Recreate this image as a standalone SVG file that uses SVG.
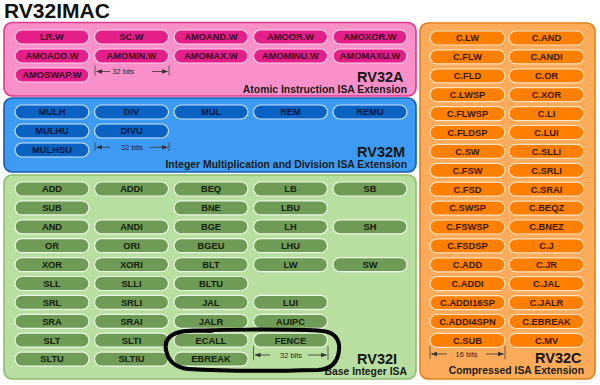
<svg xmlns="http://www.w3.org/2000/svg" width="600" height="385" viewBox="0 0 600 385">
<style>
text{font-family:"Liberation Sans",Arial,sans-serif}
.title{font-size:21px;font-weight:bold;fill:#111}
.big{font-size:14.5px;font-weight:bold;fill:#151515}
.sub{font-size:10.4px;font-weight:bold;fill:#1a1a1a}
.pt{font-size:9.3px;font-weight:bold;text-anchor:middle}
.bits{font-size:7.4px;fill:#222}
.ap rect{fill:#e41f8a;stroke:#ffd2ea;stroke-width:1.2}
.ap text{fill:#3a0520}
.mp rect{fill:#0a62c2;stroke:#cfe6ff;stroke-width:1.2}
.mp text{fill:#02183a}
.ip rect{fill:#6f9b57;stroke:#eef8e6;stroke-width:1.2}
.ip text{fill:#132008}
.cp rect{fill:#ff7f00;stroke:#ffe2c0;stroke-width:1.2}
.cp text{fill:#3a1800}
.tick{stroke:#444;stroke-width:0.8}
.arr{stroke:#333;stroke-width:0.8;fill:none}
</style>
<defs>
<marker id="ah" viewBox="0 0 6 6" refX="5.5" refY="3" markerWidth="6" markerHeight="6" markerUnits="userSpaceOnUse" orient="auto-start-reverse">
<path d="M0 0.8 L6 3 L0 5.2 Z" fill="#333"/>
</marker>
</defs>
<rect width="600" height="385" fill="#fff"/>
<text class="title" x="4" y="18">RV32IMAC</text>

<!-- RV32A -->
<g id="rv32a">
<rect x="4" y="22.5" width="412" height="73.5" rx="8" fill="#f990c9" stroke="#dc3a8c" stroke-width="1.6"/>
<text class="big" x="357" y="81.5">RV32A</text>
<text class="sub" x="407" y="92.5" text-anchor="end">Atomic Instruction ISA Extension</text>
</g>
<g class="ap">
<g id="n-LR-W" transform="translate(15,30)"><rect width="74" height="14" rx="7"/><text class="pt" x="37" y="10.4">LR.W</text></g>
<g id="n-SC-W" transform="translate(94.5,30)"><rect width="74" height="14" rx="7"/><text class="pt" x="37" y="10.4">SC.W</text></g>
<g id="n-AMOAND-W" transform="translate(174,30)"><rect width="74" height="14" rx="7"/><text class="pt" x="37" y="10.4">AMOAND.W</text></g>
<g id="n-AMOOR-W" transform="translate(253.5,30)"><rect width="74" height="14" rx="7"/><text class="pt" x="37" y="10.4">AMOOR.W</text></g>
<g id="n-AMOXOR-W" transform="translate(333,30)"><rect width="74" height="14" rx="7"/><text class="pt" x="37" y="10.4">AMOXOR.W</text></g>
<g id="n-AMOADD-W" transform="translate(15,49)"><rect width="74" height="14" rx="7"/><text class="pt" x="37" y="10.4">AMOADD.W</text></g>
<g id="n-AMOMIN-W" transform="translate(94.5,49)"><rect width="74" height="14" rx="7"/><text class="pt" x="37" y="10.4">AMOMIN.W</text></g>
<g id="n-AMOMAX-W" transform="translate(174,49)"><rect width="74" height="14" rx="7"/><text class="pt" x="37" y="10.4">AMOMAX.W</text></g>
<g id="n-AMOMINU-W" transform="translate(253.5,49)"><rect width="74" height="14" rx="7"/><text class="pt" x="37" y="10.4">AMOMINU.W</text></g>
<g id="n-AMOMAXU-W" transform="translate(333,49)"><rect width="74" height="14" rx="7"/><text class="pt" x="37" y="10.4">AMOMAXU.W</text></g>
<g id="n-AMOSWAP-W" transform="translate(15,68)"><rect width="74" height="14" rx="7"/><text class="pt" x="37" y="10.4">AMOSWAP.W</text></g>
</g>

<!-- RV32M -->
<g id="rv32m">
<rect x="4" y="98" width="412" height="74" rx="8" fill="#3d9bf3" stroke="#1a5cb0" stroke-width="1.6"/>
<text class="big" x="357" y="157">RV32M</text>
<text class="sub" x="407" y="168" text-anchor="end">Integer Multiplication and Division ISA Extension</text>
</g>
<g class="mp">
<g id="n-MULH" transform="translate(15,105)"><rect width="74" height="14" rx="7"/><text class="pt" x="37" y="10.4">MULH</text></g>
<g id="n-DIV" transform="translate(94.5,105)"><rect width="74" height="14" rx="7"/><text class="pt" x="37" y="10.4">DIV</text></g>
<g id="n-MUL" transform="translate(174,105)"><rect width="74" height="14" rx="7"/><text class="pt" x="37" y="10.4">MUL</text></g>
<g id="n-REM" transform="translate(253.5,105)"><rect width="74" height="14" rx="7"/><text class="pt" x="37" y="10.4">REM</text></g>
<g id="n-REMU" transform="translate(333,105)"><rect width="74" height="14" rx="7"/><text class="pt" x="37" y="10.4">REMU</text></g>
<g id="n-MULHU" transform="translate(15,124)"><rect width="74" height="14" rx="7"/><text class="pt" x="37" y="10.4">MULHU</text></g>
<g id="n-DIVU" transform="translate(94.5,124)"><rect width="74" height="14" rx="7"/><text class="pt" x="37" y="10.4">DIVU</text></g>
<g id="n-MULHSU" transform="translate(15,143)"><rect width="74" height="14" rx="7"/><text class="pt" x="37" y="10.4">MULHSU</text></g>
</g>

<!-- RV32I -->
<g id="rv32i">
<rect x="4" y="175" width="412" height="204" rx="8" fill="#b8dea0" stroke="#8dbf72" stroke-width="1.6"/>
<text class="big" x="357" y="363.5">RV32I</text>
<text class="sub" x="407" y="374.5" text-anchor="end">Base Integer ISA</text>
</g>
<g class="ip">
<g id="n-ADD" transform="translate(15,182)"><rect width="74" height="14" rx="7"/><text class="pt" x="37" y="10.4">ADD</text></g>
<g id="n-ADDI" transform="translate(94.5,182)"><rect width="74" height="14" rx="7"/><text class="pt" x="37" y="10.4">ADDI</text></g>
<g id="n-BEQ" transform="translate(174,182)"><rect width="74" height="14" rx="7"/><text class="pt" x="37" y="10.4">BEQ</text></g>
<g id="n-LB" transform="translate(253.5,182)"><rect width="74" height="14" rx="7"/><text class="pt" x="37" y="10.4">LB</text></g>
<g id="n-SB" transform="translate(333,182)"><rect width="74" height="14" rx="7"/><text class="pt" x="37" y="10.4">SB</text></g>
<g id="n-SUB" transform="translate(15,200.9)"><rect width="74" height="14" rx="7"/><text class="pt" x="37" y="10.4">SUB</text></g>
<g id="n-BNE" transform="translate(174,200.9)"><rect width="74" height="14" rx="7"/><text class="pt" x="37" y="10.4">BNE</text></g>
<g id="n-LBU" transform="translate(253.5,200.9)"><rect width="74" height="14" rx="7"/><text class="pt" x="37" y="10.4">LBU</text></g>
<g id="n-AND" transform="translate(15,219.8)"><rect width="74" height="14" rx="7"/><text class="pt" x="37" y="10.4">AND</text></g>
<g id="n-ANDI" transform="translate(94.5,219.8)"><rect width="74" height="14" rx="7"/><text class="pt" x="37" y="10.4">ANDI</text></g>
<g id="n-BGE" transform="translate(174,219.8)"><rect width="74" height="14" rx="7"/><text class="pt" x="37" y="10.4">BGE</text></g>
<g id="n-LH" transform="translate(253.5,219.8)"><rect width="74" height="14" rx="7"/><text class="pt" x="37" y="10.4">LH</text></g>
<g id="n-SH" transform="translate(333,219.8)"><rect width="74" height="14" rx="7"/><text class="pt" x="37" y="10.4">SH</text></g>
<g id="n-OR" transform="translate(15,238.7)"><rect width="74" height="14" rx="7"/><text class="pt" x="37" y="10.4">OR</text></g>
<g id="n-ORI" transform="translate(94.5,238.7)"><rect width="74" height="14" rx="7"/><text class="pt" x="37" y="10.4">ORI</text></g>
<g id="n-BGEU" transform="translate(174,238.7)"><rect width="74" height="14" rx="7"/><text class="pt" x="37" y="10.4">BGEU</text></g>
<g id="n-LHU" transform="translate(253.5,238.7)"><rect width="74" height="14" rx="7"/><text class="pt" x="37" y="10.4">LHU</text></g>
<g id="n-XOR" transform="translate(15,257.6)"><rect width="74" height="14" rx="7"/><text class="pt" x="37" y="10.4">XOR</text></g>
<g id="n-XORI" transform="translate(94.5,257.6)"><rect width="74" height="14" rx="7"/><text class="pt" x="37" y="10.4">XORI</text></g>
<g id="n-BLT" transform="translate(174,257.6)"><rect width="74" height="14" rx="7"/><text class="pt" x="37" y="10.4">BLT</text></g>
<g id="n-LW" transform="translate(253.5,257.6)"><rect width="74" height="14" rx="7"/><text class="pt" x="37" y="10.4">LW</text></g>
<g id="n-SW" transform="translate(333,257.6)"><rect width="74" height="14" rx="7"/><text class="pt" x="37" y="10.4">SW</text></g>
<g id="n-SLL" transform="translate(15,276.5)"><rect width="74" height="14" rx="7"/><text class="pt" x="37" y="10.4">SLL</text></g>
<g id="n-SLLI" transform="translate(94.5,276.5)"><rect width="74" height="14" rx="7"/><text class="pt" x="37" y="10.4">SLLI</text></g>
<g id="n-BLTU" transform="translate(174,276.5)"><rect width="74" height="14" rx="7"/><text class="pt" x="37" y="10.4">BLTU</text></g>
<g id="n-SRL" transform="translate(15,295.4)"><rect width="74" height="14" rx="7"/><text class="pt" x="37" y="10.4">SRL</text></g>
<g id="n-SRLI" transform="translate(94.5,295.4)"><rect width="74" height="14" rx="7"/><text class="pt" x="37" y="10.4">SRLI</text></g>
<g id="n-JAL" transform="translate(174,295.4)"><rect width="74" height="14" rx="7"/><text class="pt" x="37" y="10.4">JAL</text></g>
<g id="n-LUI" transform="translate(253.5,295.4)"><rect width="74" height="14" rx="7"/><text class="pt" x="37" y="10.4">LUI</text></g>
<g id="n-SRA" transform="translate(15,314.3)"><rect width="74" height="14" rx="7"/><text class="pt" x="37" y="10.4">SRA</text></g>
<g id="n-SRAI" transform="translate(94.5,314.3)"><rect width="74" height="14" rx="7"/><text class="pt" x="37" y="10.4">SRAI</text></g>
<g id="n-JALR" transform="translate(174,314.3)"><rect width="74" height="14" rx="7"/><text class="pt" x="37" y="10.4">JALR</text></g>
<g id="n-AUIPC" transform="translate(253.5,314.3)"><rect width="74" height="14" rx="7"/><text class="pt" x="37" y="10.4">AUIPC</text></g>
<g id="n-SLT" transform="translate(15,333.2)"><rect width="74" height="14" rx="7"/><text class="pt" x="37" y="10.4">SLT</text></g>
<g id="n-SLTI" transform="translate(94.5,333.2)"><rect width="74" height="14" rx="7"/><text class="pt" x="37" y="10.4">SLTI</text></g>
<g id="n-ECALL" transform="translate(174,333.2)"><rect width="74" height="14" rx="7"/><text class="pt" x="37" y="10.4">ECALL</text></g>
<g id="n-FENCE" transform="translate(253.5,333.2)"><rect width="74" height="14" rx="7"/><text class="pt" x="37" y="10.4">FENCE</text></g>
<g id="n-SLTU" transform="translate(15,352.1)"><rect width="74" height="14" rx="7"/><text class="pt" x="37" y="10.4">SLTU</text></g>
<g id="n-SLTIU" transform="translate(94.5,352.1)"><rect width="74" height="14" rx="7"/><text class="pt" x="37" y="10.4">SLTIU</text></g>
<g id="n-EBREAK" transform="translate(174,352.1)"><rect width="74" height="14" rx="7"/><text class="pt" x="37" y="10.4">EBREAK</text></g>
</g>

<!-- RV32C -->
<g id="rv32c">
<rect x="420" y="23" width="175" height="356" rx="8" fill="#fcab5a" stroke="#e47f16" stroke-width="1.6"/>
<text class="big" x="535" y="362.5">RV32C</text>
<text class="sub" x="584" y="373.5" text-anchor="end">Compressed ISA Extension</text>
</g>
<g class="cp">
<g id="n-C-LW" transform="translate(430,31)"><rect width="75" height="14" rx="7"/><text class="pt" x="37.5" y="10.4">C.LW</text></g>
<g id="n-C-AND" transform="translate(509,31)"><rect width="75" height="14" rx="7"/><text class="pt" x="37.5" y="10.4">C.AND</text></g>
<g id="n-C-FLW" transform="translate(430,49.9)"><rect width="75" height="14" rx="7"/><text class="pt" x="37.5" y="10.4">C.FLW</text></g>
<g id="n-C-ANDI" transform="translate(509,49.9)"><rect width="75" height="14" rx="7"/><text class="pt" x="37.5" y="10.4">C.ANDI</text></g>
<g id="n-C-FLD" transform="translate(430,68.8)"><rect width="75" height="14" rx="7"/><text class="pt" x="37.5" y="10.4">C.FLD</text></g>
<g id="n-C-OR" transform="translate(509,68.8)"><rect width="75" height="14" rx="7"/><text class="pt" x="37.5" y="10.4">C.OR</text></g>
<g id="n-C-LWSP" transform="translate(430,87.7)"><rect width="75" height="14" rx="7"/><text class="pt" x="37.5" y="10.4">C.LWSP</text></g>
<g id="n-C-XOR" transform="translate(509,87.7)"><rect width="75" height="14" rx="7"/><text class="pt" x="37.5" y="10.4">C.XOR</text></g>
<g id="n-C-FLWSP" transform="translate(430,106.6)"><rect width="75" height="14" rx="7"/><text class="pt" x="37.5" y="10.4">C.FLWSP</text></g>
<g id="n-C-LI" transform="translate(509,106.6)"><rect width="75" height="14" rx="7"/><text class="pt" x="37.5" y="10.4">C.LI</text></g>
<g id="n-C-FLDSP" transform="translate(430,125.5)"><rect width="75" height="14" rx="7"/><text class="pt" x="37.5" y="10.4">C.FLDSP</text></g>
<g id="n-C-LUI" transform="translate(509,125.5)"><rect width="75" height="14" rx="7"/><text class="pt" x="37.5" y="10.4">C.LUI</text></g>
<g id="n-C-SW" transform="translate(430,144.4)"><rect width="75" height="14" rx="7"/><text class="pt" x="37.5" y="10.4">C.SW</text></g>
<g id="n-C-SLLI" transform="translate(509,144.4)"><rect width="75" height="14" rx="7"/><text class="pt" x="37.5" y="10.4">C.SLLI</text></g>
<g id="n-C-FSW" transform="translate(430,163.3)"><rect width="75" height="14" rx="7"/><text class="pt" x="37.5" y="10.4">C.FSW</text></g>
<g id="n-C-SRLI" transform="translate(509,163.3)"><rect width="75" height="14" rx="7"/><text class="pt" x="37.5" y="10.4">C.SRLI</text></g>
<g id="n-C-FSD" transform="translate(430,182.2)"><rect width="75" height="14" rx="7"/><text class="pt" x="37.5" y="10.4">C.FSD</text></g>
<g id="n-C-SRAI" transform="translate(509,182.2)"><rect width="75" height="14" rx="7"/><text class="pt" x="37.5" y="10.4">C.SRAI</text></g>
<g id="n-C-SWSP" transform="translate(430,201.1)"><rect width="75" height="14" rx="7"/><text class="pt" x="37.5" y="10.4">C.SWSP</text></g>
<g id="n-C-BEQZ" transform="translate(509,201.1)"><rect width="75" height="14" rx="7"/><text class="pt" x="37.5" y="10.4">C.BEQZ</text></g>
<g id="n-C-FSWSP" transform="translate(430,220)"><rect width="75" height="14" rx="7"/><text class="pt" x="37.5" y="10.4">C.FSWSP</text></g>
<g id="n-C-BNEZ" transform="translate(509,220)"><rect width="75" height="14" rx="7"/><text class="pt" x="37.5" y="10.4">C.BNEZ</text></g>
<g id="n-C-FSDSP" transform="translate(430,238.9)"><rect width="75" height="14" rx="7"/><text class="pt" x="37.5" y="10.4">C.FSDSP</text></g>
<g id="n-C-J" transform="translate(509,238.9)"><rect width="75" height="14" rx="7"/><text class="pt" x="37.5" y="10.4">C.J</text></g>
<g id="n-C-ADD" transform="translate(430,257.8)"><rect width="75" height="14" rx="7"/><text class="pt" x="37.5" y="10.4">C.ADD</text></g>
<g id="n-C-JR" transform="translate(509,257.8)"><rect width="75" height="14" rx="7"/><text class="pt" x="37.5" y="10.4">C.JR</text></g>
<g id="n-C-ADDI" transform="translate(430,276.7)"><rect width="75" height="14" rx="7"/><text class="pt" x="37.5" y="10.4">C.ADDI</text></g>
<g id="n-C-JAL" transform="translate(509,276.7)"><rect width="75" height="14" rx="7"/><text class="pt" x="37.5" y="10.4">C.JAL</text></g>
<g id="n-C-ADDI16SP" transform="translate(430,295.6)"><rect width="75" height="14" rx="7"/><text class="pt" x="37.5" y="10.4">C.ADDI16SP</text></g>
<g id="n-C-JALR" transform="translate(509,295.6)"><rect width="75" height="14" rx="7"/><text class="pt" x="37.5" y="10.4">C.JALR</text></g>
<g id="n-C-ADDI4SPN" transform="translate(430,314.5)"><rect width="75" height="14" rx="7"/><text class="pt" x="37.5" y="10.4">C.ADDI4SPN</text></g>
<g id="n-C-EBREAK" transform="translate(509,314.5)"><rect width="75" height="14" rx="7"/><text class="pt" x="37.5" y="10.4">C.EBREAK</text></g>
<g id="n-C-SUB" transform="translate(430,333.4)"><rect width="75" height="14" rx="7"/><text class="pt" x="37.5" y="10.4">C.SUB</text></g>
<g id="n-C-MV" transform="translate(509,333.4)"><rect width="75" height="14" rx="7"/><text class="pt" x="37.5" y="10.4">C.MV</text></g>
</g>

<!-- width dimension markers -->
<g id="connectors">
<g id="dim-a">
<line class="tick" x1="95" y1="65.5" x2="95" y2="75.5"/><line class="tick" x1="169" y1="65.5" x2="169" y2="75.5"/>
<line class="arr" x1="110" y1="71.5" x2="96.5" y2="71.5" marker-end="url(#ah)"/>
<line class="arr" x1="152" y1="71.5" x2="167.5" y2="71.5" marker-end="url(#ah)"/>
<text class="bits" x="112.5" y="74">32 bits</text>
</g>
<g id="dim-m">
<line class="tick" x1="95" y1="142" x2="95" y2="151"/><line class="tick" x1="169" y1="142" x2="169" y2="151"/>
<line class="arr" x1="110" y1="147.3" x2="96.5" y2="147.3" marker-end="url(#ah)"/>
<line class="arr" x1="150" y1="147.3" x2="167.5" y2="147.3" marker-end="url(#ah)"/>
<text class="bits" x="132" y="149.8" text-anchor="middle">32 bits</text>
</g>
<g id="dim-i">
<line class="tick" x1="253.5" y1="346" x2="253.5" y2="360"/><line class="tick" x1="328" y1="346" x2="328" y2="360"/>
<line class="arr" x1="270" y1="355" x2="255" y2="355" marker-end="url(#ah)"/>
<line class="arr" x1="308" y1="355" x2="326.5" y2="355" marker-end="url(#ah)"/>
<text class="bits" x="291" y="357.5" text-anchor="middle">32 bits</text>
</g>
<g id="dim-c">
<line class="tick" x1="430" y1="346" x2="430" y2="359"/><line class="tick" x1="505" y1="346" x2="505" y2="359"/>
<line class="arr" x1="447" y1="354" x2="431.5" y2="354" marker-end="url(#ah)"/>
<line class="arr" x1="486" y1="354" x2="503.5" y2="354" marker-end="url(#ah)"/>
<text class="bits" x="466.5" y="356.5" text-anchor="middle">16 bits</text>
</g>
<path id="loop" d="M180 332 C200 329 300 329 322 331 C335 332 340 340 339 350 C338 362 332 369 318 370 C280 371 220 371 188 369 C175 368 168 360 166 350 C164 340 170 333 185 331 C195 330 205 331 212 331" fill="none" stroke="#000" stroke-width="4" stroke-linecap="round" stroke-linejoin="round"/>
</g>
</svg>
